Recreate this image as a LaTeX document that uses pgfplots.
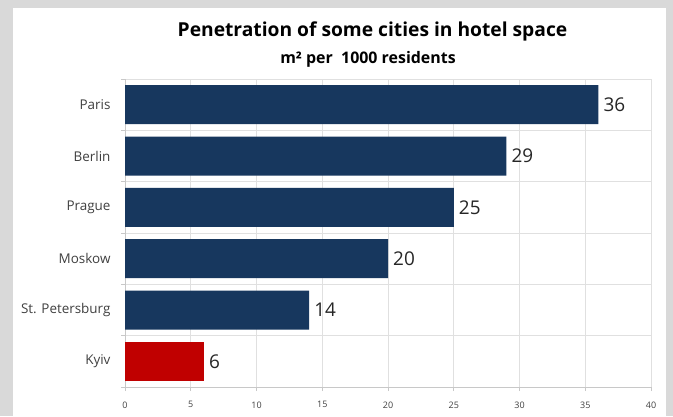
\documentclass[border=0pt]{standalone}
\usepackage{fontspec}
\setmainfont{Open Sans}
\usepackage{pgfplots}
\pgfplotsset{compat=1.18}
\definecolor{navy}{HTML}{17375E}
\definecolor{redbar}{HTML}{C00000}
\definecolor{bggray}{HTML}{D9D9D9}
\definecolor{gridgray}{HTML}{E0E0E0}
\definecolor{axgray}{HTML}{C8C8C8}
\definecolor{txt}{HTML}{404040}
\begin{document}
\begin{tikzpicture}[x=1bp,y=1bp]
\fill[bggray] (0,0) rectangle (673,416);
\fill[white] (13,0) rectangle (666,408);
\useasboundingbox (0,0) rectangle (673,416);
\node[font=\bfseries\fontsize{19.3}{22}\selectfont, text=black] at (372.5,385) {Penetration of some cities in hotel space};
\node[font=\bfseries\fontsize{16}{18}\selectfont, text=black] at (368,357) {m² per\ \ 1000 residents};
\begin{axis}[
  at={(125bp,29bp)}, anchor=south west,
  scale only axis, width=526bp, height=308bp,
  xbar, bar width=39bp,
  xmin=0, xmax=40, xtick={0,5,...,40},
  ymin=-0.5, ymax=5.5, ytick={0,...,5},
  yticklabels={Kyiv, St. Petersburg, Moskow, Prague, Berlin, Paris},
  minor ytick={-0.5,0.5,...,5.5},
  xmajorgrids=true, yminorgrids=true,
  major grid style={gridgray, line width=0.7bp},
  minor grid style={gridgray, line width=0.7bp},
  axis x line*=bottom, axis y line*=left,
  axis line style={axgray, line width=0.7bp, -},
  tick align=outside, major tick length=4bp, minor tick length=4bp,
  major y tick style={draw=none},
  tick style={axgray, line width=0.7bp},
  /pgf/number format/assume math mode=true,
  xticklabel style={font=\fontsize{9}{11}\selectfont, text=txt, yshift=-7bp},
  yticklabel style={font=\fontsize{13.5}{15}\selectfont, text=txt, xshift=-7bp},
  nodes near coords,
  nodes near coords style={font=\fontsize{19}{22}\selectfont, text=black!85, anchor=west, inner sep=2bp, xshift=3bp},
]
\addplot[fill=navy, draw=none, bar shift=0pt] coordinates {(36,5) (29,4) (25,3) (20,2) (14,1)};
\addplot[fill=redbar, draw=none, bar shift=0pt] coordinates {(6,0)};
\end{axis}
\end{tikzpicture}
\end{document}
